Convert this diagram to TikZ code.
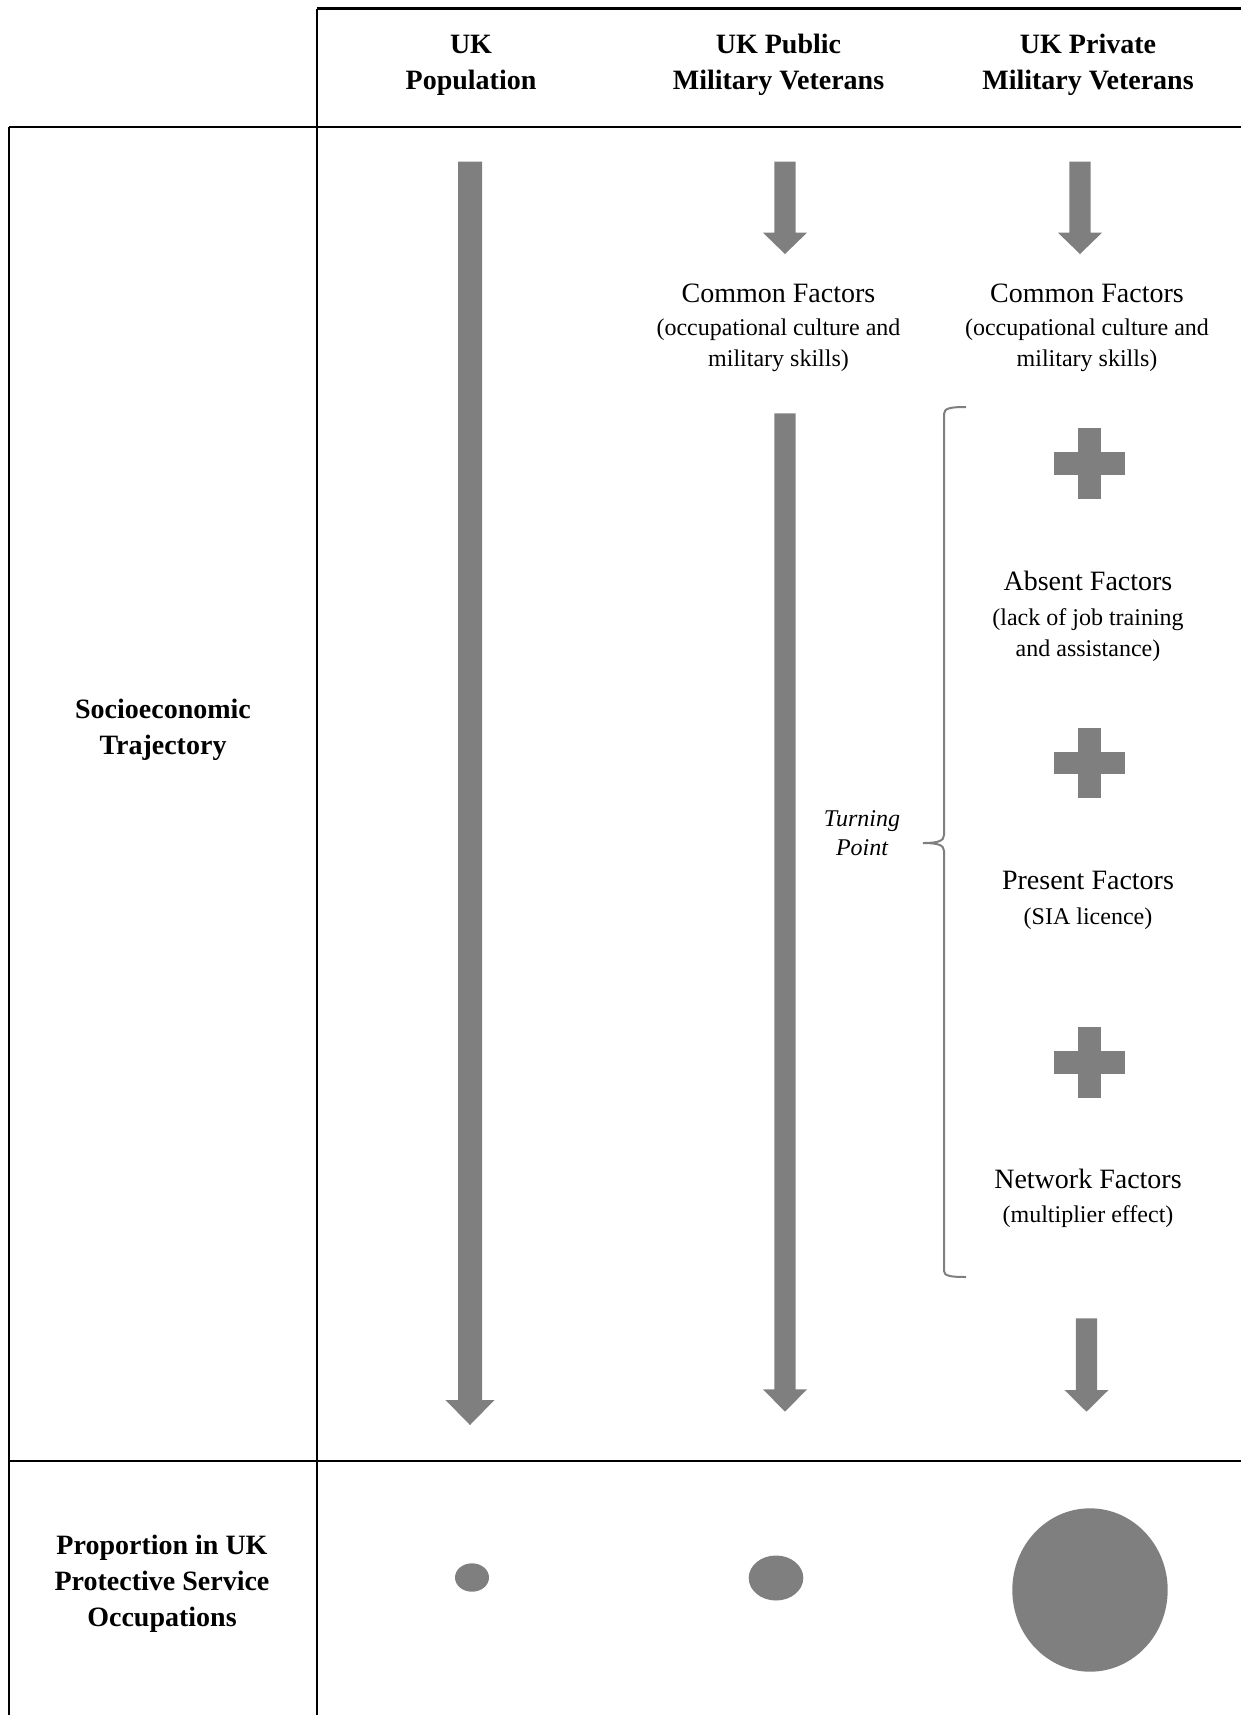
\documentclass[tikz,border=0pt]{standalone}
\usepackage{fontspec}
\setmainfont{Liberation Serif}
\definecolor{shapegray}{HTML}{7F7F7F}
\newcommand{\blockarrow}[7]{% name, x, ytop, ybase, ytip, halfshaft, halfhead
  \fill[arrowfill] (#2-#6,#3) -- (#2+#6,#3) -- (#2+#6,#4) -- (#2+#7,#4) -- (#2,#5) -- (#2-#7,#4) -- (#2-#6,#4) -- cycle;
  \coordinate (#1) at (#2,#5);}
\newcommand{\plussign}[3]{% name, x, y
  \fill[arrowfill] (#2-11.3,#3-35.3) rectangle (#2+11.3,#3+35.3);
  \fill[arrowfill] (#2-35.3,#3-11.3) rectangle (#2+35.3,#3+11.3);
  \coordinate (#1) at (#2,#3);}
\begin{document}
\begin{tikzpicture}[x=0.5pt,y=-0.5pt,
  grid/.style={draw=black,line width=1.35pt},
  arrowfill/.style={fill=shapegray},
  hdr/.style={anchor=base,align=center,font=\fontsize{14}{18}\selectfont\bfseries,inner sep=0pt},
  ftitle/.style={anchor=base,font=\fontsize{14}{17}\selectfont,inner sep=0pt},
  fsub/.style={anchor=base,align=center,font=\fontsize{12}{15.5}\selectfont,inner sep=0pt},
  turn/.style={anchor=base,align=center,font=\fontsize{12}{14.2}\selectfont\itshape,inner sep=0pt},
  bracepath/.style={draw=shapegray,line width=1pt}]
\useasboundingbox (0,0) rectangle (1241,1715);
% table rules
\draw[grid] (317,8.5) -- (1245,8.5);
\draw[grid] (317,8.5) -- (317,1720);
\draw[grid] (9,127) -- (1245,127);
\draw[grid] (9,127) -- (9,1720);
\draw[grid] (9,1461) -- (1245,1461);
% headers (anchor = baseline of last line)
\node[hdr] (h1) at (471,89) {UK\\Population};
\node[hdr] (h2) at (778.5,89) {UK Public\\Military Veterans};
\node[hdr] (h3) at (1088,89) {UK Private\\Military Veterans};
\node[hdr] (r1) at (163,754) {Socioeconomic\\Trajectory};
\node[hdr] (r2) at (162,1626) {Proportion in UK\\Protective Service\\Occupations};
% arrows
\blockarrow{a1}{470}{161.7}{1400}{1425}{12}{24.5}
\blockarrow{a2}{785}{161.7}{232.7}{254}{10.7}{22}
\blockarrow{a3}{1080}{161.7}{232.7}{254}{10.7}{22}
\blockarrow{a4}{785}{413.3}{1389.3}{1411.7}{10.7}{22}
\blockarrow{a5}{1086.5}{1318.3}{1390}{1411.7}{10.7}{22}
% column 2 text
\node[ftitle] (c2t) at (778.5,302.7) {Common Factors};
\node[fsub] (c2s) at (778.5,366.6) {(occupational culture and\\military skills)};
% column 3 text
\node[ftitle] (c3t) at (1087,302.7) {Common Factors};
\node[fsub] (c3s) at (1087,366.6) {(occupational culture and\\military skills)};
\plussign{p1}{1089.7}{463.3}
\node[ftitle] (abt) at (1088,590) {Absent Factors};
\node[fsub] (abs) at (1088,656.3) {(lack of job training\\and assistance)};
\plussign{p2}{1089.7}{763}
\node[ftitle] (prt) at (1088,889) {Present Factors};
\node[fsub] (prs) at (1088,924.3) {(SIA licence)};
\plussign{p3}{1089.7}{1062.5}
\node[ftitle] (nwt) at (1088,1188) {Network Factors};
\node[fsub] (nws) at (1088,1222.2) {(multiplier effect)};
% brace and turning point
\draw[bracepath] (966,407) .. controls (951,407) and (944,408) .. (944,414) -- (944,835)
  .. controls (944,841) and (938,843) .. (923,843)
  .. controls (938,843) and (944,845) .. (944,851) -- (944,1271)
  .. controls (944,1276) and (951,1277) .. (966,1277);
\node[turn] (tp) at (862,855) {Turning\\Point};
% proportion circles
\fill[shapegray] (472,1577.5) ellipse [x radius=17, y radius=14.2];
\fill[shapegray] (776,1578) ellipse [x radius=27.3, y radius=22.5];
\fill[shapegray] (1090,1590) ellipse [x radius=77.7, y radius=81.7];
\end{tikzpicture}
\end{document}
